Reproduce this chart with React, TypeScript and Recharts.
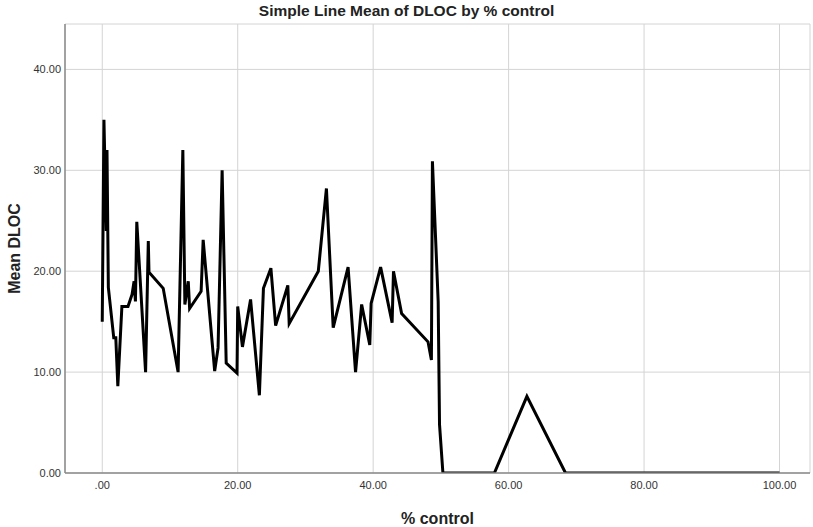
import React from 'react';
import { LineChart, Line, XAxis, YAxis, CartesianGrid, Label } from 'recharts';

const pctControl: number[] = [
  0, 0.25, 0.6, 0.7, 0.9, 1.7, 2.0, 2.3, 2.9, 3.8, 4.4, 4.7, 4.9, 5.1, 6.4, 6.8, 6.9, 9.0,
  11.2, 11.9, 12.2, 12.7, 12.9, 14.6, 14.9, 16.6, 17.1, 17.7, 18.3, 19.9, 20.0, 20.7, 21.9,
  23.2, 23.8, 24.9, 25.6, 27.4, 27.6, 31.9, 33.1, 34.1, 36.3, 37.4, 38.3, 39.5, 39.7, 41.1,
  42.8, 43.0, 44.2, 48.1, 48.6, 48.75, 49.6, 49.8, 50.3, 57.9, 62.7, 68.4, 100,
];
const meanDLOC: number[] = [
  15.0, 35.0, 24.0, 32.0, 18.4, 13.4, 13.4, 8.6, 16.5, 16.5, 17.7, 19.0, 17.0, 24.9, 10.0, 23.0, 19.9, 18.3,
  10.0, 32.0, 16.7, 19.0, 16.3, 18.0, 23.1, 10.1, 12.4, 30.0, 10.9, 9.9, 16.5, 12.5, 17.2,
  7.7, 18.3, 20.3, 14.6, 18.6, 14.8, 20.0, 28.2, 14.4, 20.4, 10.0, 16.7, 12.7, 16.8, 20.4,
  14.9, 20.0, 15.8, 13.0, 11.2, 30.9, 17.0, 4.8, 0, 0, 7.6, 0, 0,
];
const xTicks: number[] = [0, 20, 40, 60, 80, 100];
const yTicks: number[] = [0, 10, 20, 30, 40];

const data = pctControl.map((x, i) => ({ x, y: meanDLOC[i] }));

const fmtX = (v: number) => (v === 0 ? '.00' : v.toFixed(2));
const fmtY = (v: number) => v.toFixed(2);

const FONT = "'Liberation Sans', Arial, sans-serif";

export default function App() {
  return (
    <div style={{ position: 'absolute', left: 0, top: 0, width: 813, height: 527, background: '#fff' }}>
      <div
        style={{
          position: 'absolute',
          left: 0,
          width: 813,
          top: 2,
          textAlign: 'center',
          fontFamily: FONT,
          fontWeight: 'bold',
          fontSize: 15.5,
          color: '#222',
        }}
      >
        Simple Line Mean of DLOC by % control
      </div>
      <LineChart
        width={813}
        height={527}
        data={data}
        margin={{ top: 24, right: 3, left: 0, bottom: 0 }}
      >
        <CartesianGrid stroke="#d4d4d4" strokeWidth={1} />
        <XAxis
          dataKey="x"
          type="number"
          domain={[-5.5, 104.5]}
          ticks={xTicks}
          tickFormatter={fmtX}
          allowDataOverflow
          height={54}
          axisLine={{ stroke: '#8a8a8a', strokeWidth: 1.5 }}
          tickLine={false}
          tickSize={0}
          tick={{ fontSize: 11, fill: '#333', stroke: 'none', fontFamily: FONT }}
          tickMargin={8}
        >
          <Label
            value="% control"
            position="insideBottom"
            offset={3}
            style={{ fontSize: 16, fontWeight: 'bold', fill: '#222', fontFamily: FONT }}
          />
        </XAxis>
        <YAxis
          type="number"
          domain={[0, 44.5]}
          ticks={yTicks}
          tickFormatter={fmtY}
          allowDataOverflow
          width={65}
          axisLine={{ stroke: '#8a8a8a', strokeWidth: 1.5 }}
          tickLine={false}
          tickSize={0}
          tick={{ fontSize: 11, fill: '#333', stroke: 'none', fontFamily: FONT }}
          tickMargin={4}
        >
          <Label
            value="Mean DLOC"
            angle={-90}
            position="insideLeft"
            offset={14}
            style={{ textAnchor: 'middle', fontSize: 16, fontWeight: 'bold', fill: '#222', fontFamily: FONT }}
          />
        </YAxis>
        <Line
          type="linear"
          dataKey="y"
          stroke="#000"
          strokeWidth={3}
          dot={false}
          activeDot={false}
          isAnimationActive={false}
        />
      </LineChart>
    </div>
  );
}
